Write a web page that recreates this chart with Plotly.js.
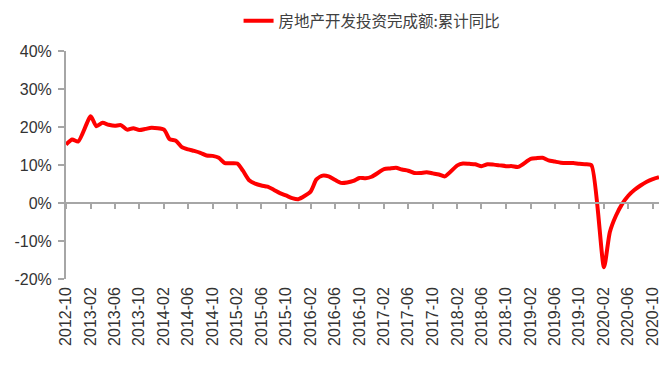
<!DOCTYPE html>
<html>
<head>
<meta charset="utf-8">
<script src="https://cdn.plot.ly/plotly-3.0.1.min.js"></script>
<style>html,body{margin:0;padding:0;background:#fff;}#chart{width:670px;height:367px;}</style>
</head>
<body>
<div id="chart"></div>
<script>
// Monthly cumulative YoY (%), January not published (Jan-Feb combined)
const months = [
  '2012-10','2012-11','2012-12',
  '2013-02','2013-03','2013-04','2013-05','2013-06','2013-07','2013-08','2013-09','2013-10','2013-11','2013-12',
  '2014-02','2014-03','2014-04','2014-05','2014-06','2014-07','2014-08','2014-09','2014-10','2014-11','2014-12',
  '2015-02','2015-03','2015-04','2015-05','2015-06','2015-07','2015-08','2015-09','2015-10','2015-11','2015-12',
  '2016-02','2016-03','2016-04','2016-05','2016-06','2016-07','2016-08','2016-09','2016-10','2016-11','2016-12',
  '2017-02','2017-03','2017-04','2017-05','2017-06','2017-07','2017-08','2017-09','2017-10','2017-11','2017-12',
  '2018-02','2018-03','2018-04','2018-05','2018-06','2018-07','2018-08','2018-09','2018-10','2018-11','2018-12',
  '2019-02','2019-03','2019-04','2019-05','2019-06','2019-07','2019-08','2019-09','2019-10','2019-11','2019-12',
  '2020-02','2020-03','2020-04','2020-05','2020-06','2020-07','2020-08','2020-09','2020-10','2020-11'
];
const yoy = [
  15.4, 16.7, 16.2,
  22.8, 20.2, 21.1, 20.6, 20.3, 20.5, 19.3, 19.7, 19.2, 19.5, 19.8,
  19.3, 16.8, 16.4, 14.7, 14.1, 13.7, 13.2, 12.5, 12.4, 11.9, 10.5,
  10.4, 8.5, 6.0, 5.1, 4.6, 4.3, 3.5, 2.6, 2.0, 1.3, 1.0,
  3.0, 6.2, 7.2, 7.0, 6.1, 5.3, 5.4, 5.8, 6.6, 6.5, 6.9,
  8.9, 9.1, 9.3, 8.8, 8.5, 7.9, 7.9, 8.1, 7.8, 7.5, 7.0,
  9.9, 10.4, 10.3, 10.2, 9.7, 10.2, 10.1, 9.9, 9.7, 9.7, 9.5,
  11.6, 11.8, 11.9, 11.2, 10.9, 10.6, 10.5, 10.5, 10.3, 10.2, 9.9,
  -16.9, -7.7, -3.3, -0.3, 1.9, 3.4, 4.6, 5.6, 6.3, 6.8
];
const yTickVals = [-20, -10, 0, 10, 20, 30, 40];
const yTickText = ['-20%', '-10%', '0%', '10%', '20%', '30%', '40%'];
const seriesName = '房地产开发投资完成额:累计同比';
const xDates = months.map(m => m + '-01');

const axisColor = '#a6a6a6';
const textColor = '#333333';

const traces = [
  {
    x: xDates, y: yoy, type: 'scatter', mode: 'lines', name: seriesName,
    line: {color: '#ff0000', width: 4, shape: 'spline', smoothing: 0.6},
    hoverinfo: 'x+y'
  },
  {
    x: xDates, y: yoy, xaxis: 'x2', type: 'scatter', mode: 'lines',
    showlegend: false, hoverinfo: 'skip', opacity: 0, line: {width: 0}
  }
];

const xRange = ['2012-10-01', '2020-11-01'];

const layout = {
  width: 670, height: 367,
  margin: {l: 66, r: 11, t: 51, b: 88, autoexpand: false},
  paper_bgcolor: '#ffffff', plot_bgcolor: '#ffffff',
  font: {family: 'Liberation Sans, Arial, sans-serif', color: textColor, size: 16},
  showlegend: true,
  legend: {
    orientation: 'h', x: 0.291, xanchor: 'left', y: 1.205, yanchor: 'top',
    font: {family: 'Noto Sans CJK SC, sans-serif', size: 15.5, color: '#404040'},
    bgcolor: 'rgba(0,0,0,0)'
  },
  xaxis: {
    type: 'date', range: xRange, tick0: '2012-10-01', dtick: 'M4', tickformat: '%Y-%m',
    tickangle: -90, showline: false, showgrid: false, zeroline: false, ticks: '',
    ticklabelstandoff: 4, automargin: false,
    tickfont: {size: 16, color: textColor}, fixedrange: true
  },
  xaxis2: {
    type: 'date', range: xRange, tick0: '2012-10-01', dtick: 'M4',
    overlaying: 'x', anchor: 'free', position: 1/3, side: 'bottom',
    showline: true, linecolor: axisColor, linewidth: 2,
    ticks: 'outside', ticklen: 5, tickwidth: 2, tickcolor: axisColor,
    showticklabels: false, showgrid: false, zeroline: false
  },
  yaxis: {
    range: [-20, 40], tickmode: 'array', tickvals: yTickVals, ticktext: yTickText,
    showgrid: false, zeroline: false,
    showline: true, linecolor: axisColor, linewidth: 2,
    ticks: 'outside', ticklen: 6, tickwidth: 2, tickcolor: axisColor,
    ticklabelstandoff: 3, automargin: false,
    tickfont: {size: 16, color: textColor}
  }
};

Plotly.newPlot('chart', traces, layout, {staticPlot: true, displayModeBar: false});
</script>
</body>
</html>
